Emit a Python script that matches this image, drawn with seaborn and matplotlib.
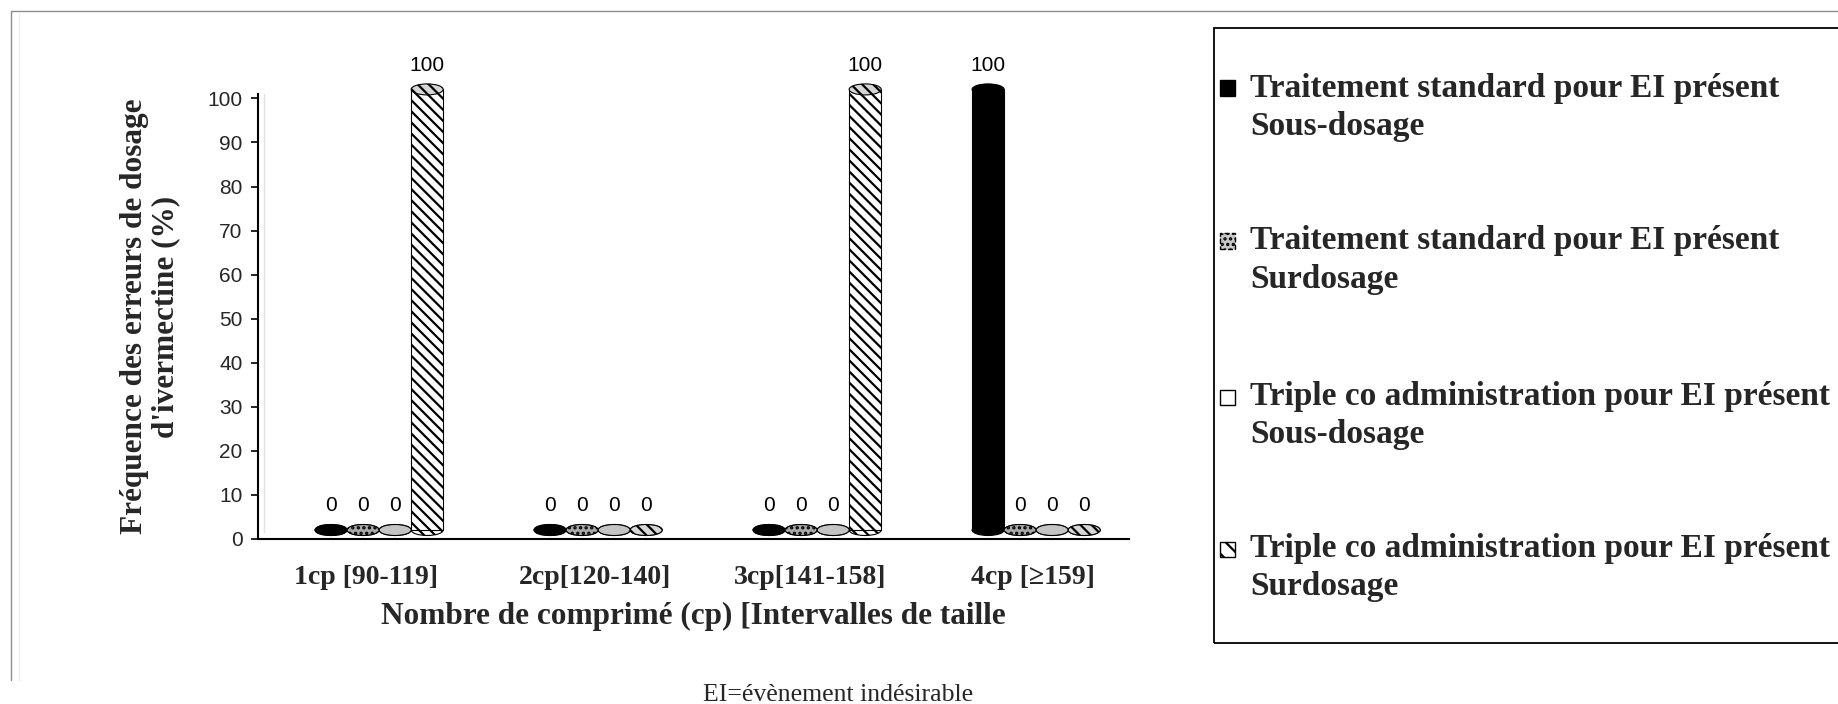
import numpy as np
import pandas as pd
import matplotlib
matplotlib.use("Agg")
import matplotlib.pyplot as plt
import matplotlib.transforms as mtransforms
from matplotlib.patches import Ellipse, Rectangle
from matplotlib.lines import Line2D
import seaborn as sns

# ---- data -------------------------------------------------------------
categories = ["1cp [90-119]", "2cp[120-140]", "3cp[141-158]", "4cp [\u2265159]"]
series = [
    "Traitement standard pour EI présent\nSous-dosage",
    "Traitement standard pour EI présent\nSurdosage",
    "Triple co administration pour EI présent\nSous-dosage",
    "Triple co administration pour EI présent\nSurdosage",
]
std_sous = [0, 0, 0, 100]
std_sur = [0, 0, 0, 0]
triple_sous = [0, 0, 0, 0]
triple_sur = [100, 0, 100, 0]
y_ticks = list(range(0, 101, 10))

values = [std_sous, std_sur, triple_sous, triple_sur]
df = pd.DataFrame(
    [(c, s, v[i]) for s, v in zip(series, values) for i, c in enumerate(categories)],
    columns=["cat", "serie", "val"],
)

# ---- styling ----------------------------------------------------------
face_colors = ["#000000", "#a9a9a9", "#c4c4c4", "#ffffff"]
legend_faces = ["#000000", "#c8c8c8", "#ffffff", "#ffffff"]
hatches = ["", "...", "", "\\\\\\"]

sns.set_theme(style="white")
plt.rcParams["font.family"] = ["Liberation Sans", "DejaVu Sans"]
plt.rcParams["hatch.linewidth"] = 1.6
SERIF = ["Liberation Serif", "DejaVu Serif"]

W, H = 1838, 704
fig = plt.figure(figsize=(W / 100, H / 100), dpi=100)
fig.patch.set_facecolor("white")

# axes box in pixel units (left, right, top, bottom measured from the top edge)
axL, axR, axT, axB = 258, 1129, 94, 539
ax = fig.add_axes([axL / W, (H - axB) / H, (axR - axL) / W, (axB - axT) / H])

sns.barplot(
    data=df, x="cat", y="val", hue="serie", hue_order=series, order=categories,
    palette=face_colors, saturation=1, width=0.585, dodge=True,
    edgecolor="black", linewidth=0.8, legend=False, ax=ax,
)

ax.set_xlim(-0.553, 3.424)
ax.set_ylim(0, 101)

# cylinders: lift bars a little above the floor and add elliptical caps
lift = mtransforms.ScaledTranslation(0, 9 / 100, fig.dpi_scale_trans)
cap_h = 11 / ((axB - axT) / 101)  # cap height in data units
for k, cont in enumerate(ax.containers):
    for bar in cont:
        bar.set_hatch(hatches[k])
        bar.set_facecolor(face_colors[k])
        bar.set_transform(ax.transData + lift)
        bar.set_zorder(2)
        bar.set_clip_on(False)
        x0, w, h = bar.get_x(), bar.get_width(), bar.get_height()
        xc = x0 + w / 2
        base = Ellipse((xc, 0), w, cap_h, facecolor=face_colors[k], edgecolor="black",
                       linewidth=0.8, hatch=hatches[k], transform=ax.transData + lift,
                       zorder=1.5, clip_on=False)
        top = Ellipse((xc, h), w, cap_h,
                      facecolor=face_colors[k] if k != 3 else "#d6d6d6",
                      edgecolor="black", linewidth=0.8, hatch=hatches[k],
                      transform=ax.transData + lift, zorder=3, clip_on=False)
        ax.add_patch(base)
        ax.add_patch(top)
    ax.bar_label(cont, labels=[f"{v:g}" for v in cont.datavalues], padding=17,
                 fontsize=15, family=["Liberation Sans"], color="black")

# axes appearance
for s in ["top", "right"]:
    ax.spines[s].set_visible(False)
for s in ["left", "bottom"]:
    ax.spines[s].set_color("black")
    ax.spines[s].set_linewidth(1.5)
ax.set_yticks(y_ticks)
ax.tick_params(axis="y", direction="out", length=5, width=1.2, color="black",
               labelsize=15, pad=6, left=True)
ax.tick_params(axis="x", length=0, pad=19)
label_shift = [-13, -3, -7, -3]
for lab, dx in zip(ax.get_xticklabels(), label_shift):
    lab.set_fontfamily(SERIF)
    lab.set_fontweight("bold")
    lab.set_fontsize(20)
    lab.set_transform(lab.get_transform() +
                      mtransforms.ScaledTranslation(dx / 100, 0, fig.dpi_scale_trans))
ax.set_xlabel("Nombre de comprimé (cp) [Intervalles de taille", fontsize=22.5,
              fontweight="bold", family=SERIF, labelpad=8)
ax.set_ylabel("Fréquence des erreurs de dosage\nd'ivermectine (%)", fontsize=22.5,
              fontweight="bold", family=SERIF, labelpad=20, linespacing=1.1)
ax.grid(False)

# faint back-wall edge
fig.add_artist(Line2D([264 / W, 264 / W], [(H - 532) / H, (H - axT) / H],
                      color="#e2e2e2", linewidth=1.0))

# outer frame
fig.add_artist(Line2D([11 / W, 1.0], [(H - 11) / H] * 2, color="#8c8c8c", linewidth=1.0))
fig.add_artist(Line2D([11 / W] * 2, [(H - 11) / H, (H - 680) / H], color="#8c8c8c", linewidth=1.0))
fig.add_artist(Line2D([19 / W] * 2, [(H - 14) / H, (H - 680) / H], color="#ececec", linewidth=1.0))

# legend panel
fig.add_artist(Rectangle((1214 / W, (H - 643) / H), (W - 1214 + 20) / W, (643 - 28) / H,
                         facecolor="none", edgecolor="black", linewidth=1.3,
                         transform=fig.transFigure, clip_on=False))
first_line_y = [88, 241, 397, 549]
line_gap = 38
mk = 15
for k, name in enumerate(series):
    l1, l2 = name.split("\n")
    yc = first_line_y[k]
    fig.add_artist(Rectangle((1220 / W, (H - yc - mk / 2) / H), mk / W, mk / H,
                             facecolor=legend_faces[k], edgecolor="black", linewidth=1.0,
                             hatch=hatches[k] if k != 3 else "\\\\",
                             linestyle="--" if k == 1 else "-",
                             transform=fig.transFigure))
    fig.text(1250 / W, (H - yc) / H, l1, ha="left", va="center", fontsize=24,
             fontweight="bold", family=SERIF)
    fig.text(1250 / W, (H - yc - line_gap) / H, l2, ha="left", va="center", fontsize=24,
             fontweight="bold", family=SERIF)

fig.text(838 / W, (H - 695) / H, "EI=évènement indésirable", ha="center", va="center",
         fontsize=18.5, family=SERIF)

fig.savefig("out.png", dpi=100, facecolor="white")
